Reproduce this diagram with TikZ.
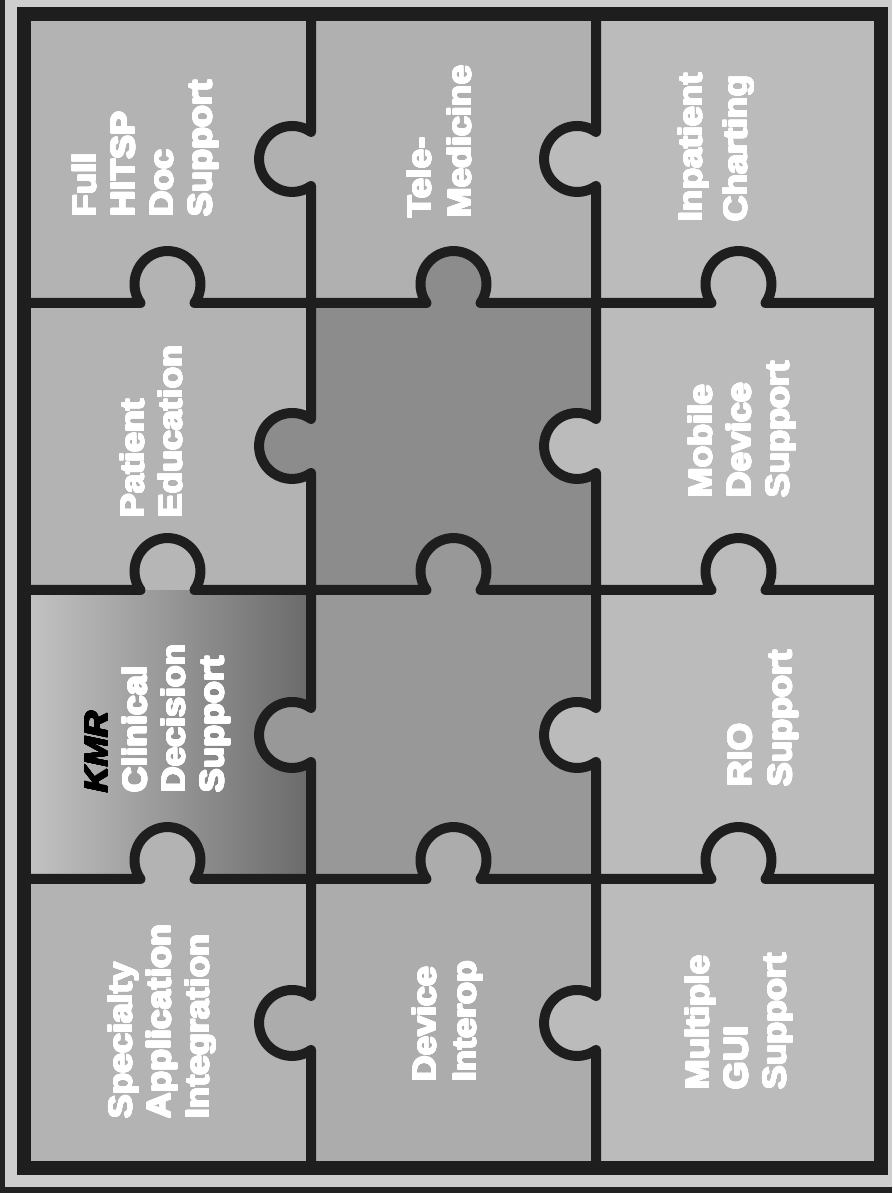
\documentclass[tikz,border=0pt]{standalone}
\usepackage{fontspec}
\usepackage[copies]{contour}
\contourlength{0.8pt}
\contournumber{20}
\setmainfont{Liberation Sans}[UprightFont={* Bold}, ItalicFont={* Bold Italic}, BoldFont={* Bold}, BoldItalicFont={* Bold Italic}, FakeStretch=1.08]
\newcommand{\hv}[1]{\contour{white}{#1}}
\definecolor{bgc}{HTML}{CECECE}
\definecolor{edgeC}{HTML}{222222}
\definecolor{lineC}{HTML}{1E1E1E}
\definecolor{pA}{HTML}{B3B3B3}
\definecolor{pTele}{HTML}{B0B0B0}
\definecolor{pC}{HTML}{BBBBBB}
\definecolor{pDark}{HTML}{8C8C8C}
\definecolor{pMid}{HTML}{989898}
\definecolor{pDev}{HTML}{ACACAC}
\definecolor{kmrL}{HTML}{C4C4C4}
\definecolor{kmrM}{HTML}{A2A2A2}
\definecolor{kmrR}{HTML}{6A6A6A}
\definecolor{kmrK}{HTML}{B6B6B6}
\begin{document}
\begin{tikzpicture}[x=1pt,y=1pt,
  gridline/.style={draw=lineC, line width=10, line join=round},
  framebox/.style={draw=lineC, line width=14},
  lbl/.style={rotate=90, anchor=north west, inner sep=0, align=left, text=white,
              font=\fontsize{33}{38.5}\selectfont}]
\useasboundingbox (0,0) rectangle (892,1193);
% background and scan edges
\fill[bgc] (0,0) rectangle (892,1193);
\fill[edgeC] (0,0) rectangle (5,1193);
\fill[edgeC] (0,0) rectangle (892,6);
% cells
\fill[pA] (24,890) rectangle (311,1179);
\fill[pTele] (311,890) rectangle (596,1179);
\fill[pC] (596,890) rectangle (881,1179);
\fill[pA] (24,603) rectangle (311,890);
\fill[pDark] (311,603) rectangle (596,890);
\fill[pC] (596,603) rectangle (881,890);
\shade[left color=kmrL, middle color=kmrM, right color=kmrR] (24,314) rectangle (311,603);
\fill[pMid] (311,314) rectangle (596,603);
\fill[pC] (596,314) rectangle (881,603);
\fill[pA] (24,25) rectangle (311,314);
\fill[pDev] (311,25) rectangle (596,314);
\fill[pC] (596,25) rectangle (881,314);
% knob fills: vertical lines (knobs point left)
\foreach \X/\Y/\c in {311/1034/pTele, 311/747/pDark, 311/458/pMid, 311/170/pDev,
                      596/1034/pC, 596/747/pC, 596/458/pC, 596/170/pC}
  \fill[\c] (\X,\Y+27.03) arc[start angle=55, end angle=305, radius=33] -- cycle;
% knob fills: horizontal lines (knobs point up)
\foreach \X/\Y/\c in {167.5/890/pA, 453.5/890/pDark, 738.5/890/pC,
                      167.5/603/kmrK, 453.5/603/pMid, 738.5/603/pC,
                      167.5/314/pA, 453.5/314/pDev, 738.5/314/pC}
  \fill[\c] (\X-27.03,\Y) arc[start angle=215, end angle=-35, radius=33] -- cycle;
% vertical grid lines with knobs
\foreach \X in {311,596}
  \draw[gridline] (\X,1179) -- (\X,1061.03) arc[start angle=55, end angle=305, radius=33]
     -- (\X,774.03) arc[start angle=55, end angle=305, radius=33]
     -- (\X,485.03) arc[start angle=55, end angle=305, radius=33]
     -- (\X,197.03) arc[start angle=55, end angle=305, radius=33]
     -- (\X,25);
% horizontal grid lines with knobs
\foreach \Y in {890,603,314}
  \draw[gridline] (24,\Y) -- (140.47,\Y) arc[start angle=215, end angle=-35, radius=33]
     -- (426.47,\Y) arc[start angle=215, end angle=-35, radius=33]
     -- (711.47,\Y) arc[start angle=215, end angle=-35, radius=33]
     -- (881,\Y);
% outer frame
\draw[framebox] (24,25) rectangle (881,1179);
% labels
\node[lbl] (fullhitsp) at (72,976) {\hv{Full}\\\hv{HITSP}\\\hv{Doc}\\\hv{Support}};
\node[lbl, font=\fontsize{33}{40}\selectfont] (tele) at (407,975) {\hv{Tele-}\\\hv{Medicine}};
\node[lbl, font=\fontsize{33}{45}\selectfont] (inpatient) at (678,971) {\hv{Inpatient}\\\hv{Charting}};
\node[lbl, font=\fontsize{33}{38}\selectfont] (patient) at (120,675) {\hv{Patient}\\\hv{Education}};
\node[lbl] (mobile) at (688,695) {\hv{Mobile}\\\hv{Device}\\\hv{Support}};
\node[lbl] (kmr) at (85,400) {\textcolor{black}{\contour{black}{\itshape KMR}}\\\hv{Clinical}\\\hv{Decision}\\\hv{Support}};
\node[lbl, font=\fontsize{33}{40}\selectfont] (rio) at (728,406) {\hv{RIO}\\\hv{Support}};
\node[lbl] (specialty) at (108,74) {\hv{Specialty}\\\hv{Application}\\\hv{Integration}};
\node[lbl, font=\fontsize{33}{40}\selectfont] (device) at (412,111) {\hv{Device}\\\hv{Interop}};
\node[lbl] (multiple) at (685,103) {\hv{Multiple}\\\hv{GUI}\\\hv{Support}};
\end{tikzpicture}
\end{document}
